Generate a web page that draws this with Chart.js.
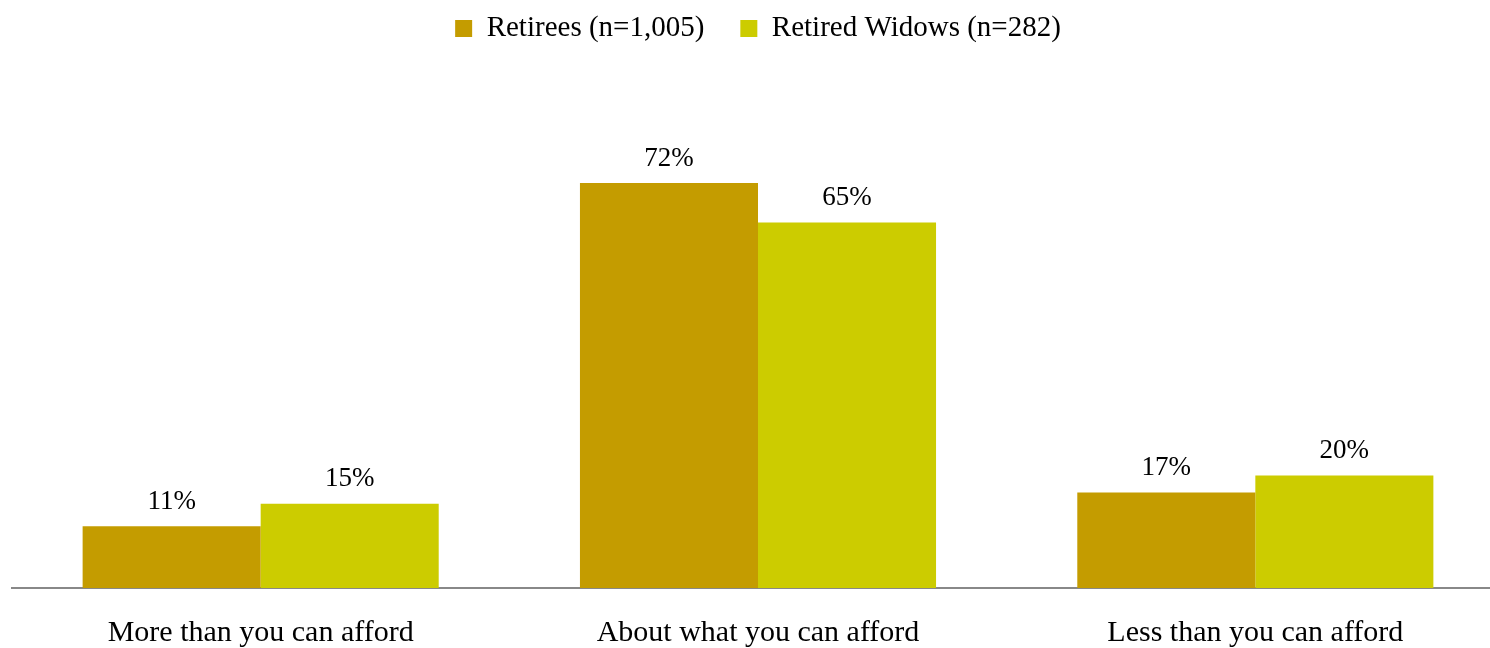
<!DOCTYPE html>
<html>
<head>
<meta charset="utf-8">
<script src="https://cdn.jsdelivr.net/npm/chart.js@4"></script>
<style>
  html, body { margin: 0; padding: 0; background: #fff; overflow: hidden; }
  #wrap { width: 1504px; height: 648px; }
</style>
</head>
<body>
<div id="wrap"><canvas id="chart"></canvas></div>
<script>
// data
const categories = ['More than you can afford', 'About what you can afford', 'Less than you can afford'];
const retirees = [11, 72, 17];
const widows = [15, 65, 20];
const seriesNames = ['Retirees (n=1,005)', 'Retired Widows (n=282)'];

const FONT = "'Liberation Serif', 'Times New Roman', serif";

// draw the percentage above each bar
const valueLabels = {
    id: 'valueLabels',
    afterDatasetsDraw(chart) {
        const ctx = chart.ctx;
        ctx.save();
        ctx.font = '27px ' + FONT;
        ctx.fillStyle = '#000';
        ctx.textAlign = 'center';
        ctx.textBaseline = 'bottom';
        chart.data.datasets.forEach((ds, i) => {
            chart.getDatasetMeta(i).data.forEach((bar, j) => {
                ctx.fillText(ds.data[j] + '%', bar.x, bar.y - 11);
            });
        });
        ctx.restore();
    }
};

// legend block takes the space down to the plot top; items pulled up
const legendTweak = {
    id: 'legendTweak',
    beforeInit(chart) {
        const lg = chart.legend;
        const fit = lg.fit;
        lg.fit = function () {
            fit.bind(lg)();
            this.height = 138;
        };
        const draw = lg.draw;
        lg.draw = function () {
            const ctx = chart.ctx;
            ctx.save();
            ctx.translate(0, -22);
            draw.bind(lg)();
            ctx.restore();
        };
    }
};

new Chart(document.getElementById('chart'), {
    type: 'bar',
    data: {
        labels: categories,
        datasets: [
            { label: seriesNames[0], data: retirees, backgroundColor: '#C49C00' },
            { label: seriesNames[1], data: widows, backgroundColor: '#CCCC00' }
        ]
    },
    options: {
        responsive: true,
        maintainAspectRatio: false,
        animation: false,
        layout: { padding: { left: 12, right: 0, top: 0, bottom: 0 } },
        datasets: { bar: { categoryPercentage: 0.716, barPercentage: 1.0 } },
        scales: {
            x: {
                grid: { display: false, drawTicks: false },
                border: { display: true, color: '#888888', width: 2 },
                ticks: { color: '#000', font: { family: FONT, size: 30 }, padding: 27 },
                afterFit(scale) { scale.height = 60; }
            },
            y: {
                display: false,
                min: 0,
                max: 80
            }
        },
        plugins: {
            legend: {
                position: 'top',
                labels: {
                    color: '#000',
                    font: { family: FONT, size: 29 },
                    boxWidth: 17,
                    boxHeight: 17,
                    padding: 36
                }
            },
            tooltip: { enabled: false }
        }
    },
    plugins: [valueLabels, legendTweak]
});
</script>
</body>
</html>
